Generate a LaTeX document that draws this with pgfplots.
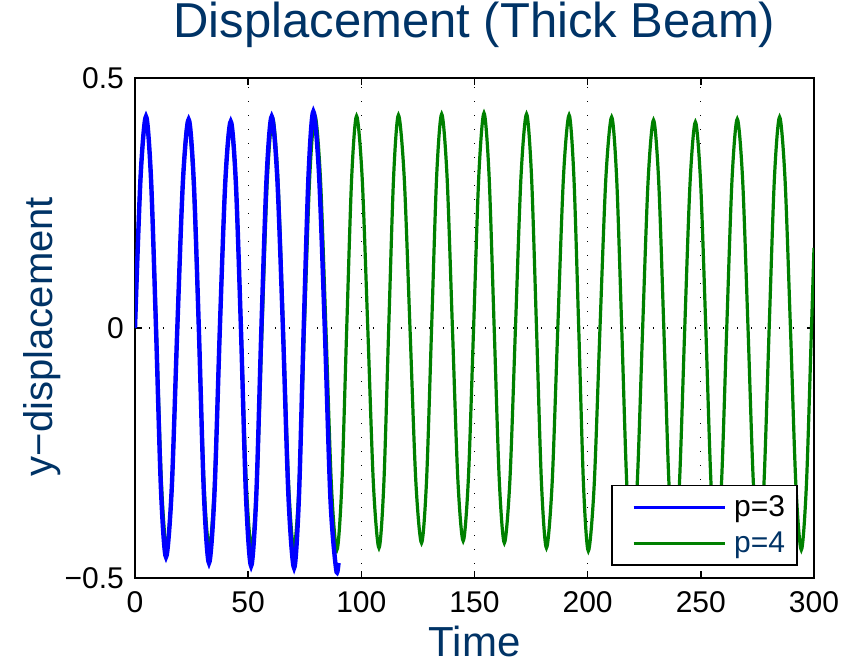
\documentclass[border=0pt]{standalone}
\usepackage{pgfplots}
\pgfplotsset{compat=1.18}
\usepackage{fontspec}
\setmainfont{Liberation Sans}
\definecolor{navyt}{RGB}{0,51,102}
\definecolor{mblue}{RGB}{0,0,255}
\definecolor{mgreen}{RGB}{0,128,0}
\begin{document}
\begin{tikzpicture}
\useasboundingbox (-67.5pt,-44.5pt) rectangle (353.5pt,289pt);
\begin{axis}[
  at={(0,0)}, anchor=south west,
  scale only axis, width=339.5pt, height=250pt,
  xmin=0, xmax=300, ymin=-0.5, ymax=0.5,
  xtick={0,50,100,150,200,250,300},
  ytick={-0.5,0,0.5},
  yticklabels={−0.5,0,0.5},
  /pgf/number format/assume math mode=true,
  tick label style={font=\fontsize{15}{17}\selectfont, black},
  xticklabel style={yshift=-3pt},
  yticklabel style={xshift=-2pt},
  tick align=inside, major tick length=3.5pt,
  tick style={black, line width=0.7pt},
  axis line style={line width=0.9pt, black},
  grid=major,
  major grid style={black, line width=0.6pt, dash pattern=on 0.6pt off 6.4pt},
  title={Displacement (Thick Beam)},
  title style={at={([yshift=14pt]axis description cs:0.5,1)}, anchor=base, font=\fontsize{24.5}{28}\selectfont, text=navyt},
  xlabel={Time},
  xlabel style={at={([yshift=-39.5pt]axis description cs:0.5,0)}, anchor=base, font=\fontsize{21}{23}\selectfont, text=navyt},
  ylabel={y−displacement},
  ylabel style={at={([xshift=-41pt]axis description cs:0,0.483)}, anchor=base, font=\fontsize{20}{23}\selectfont, text=navyt},
  legend style={at={(axis description cs:0.9764,0.024)}, anchor=south east, draw=black, line width=0.9pt, fill=white, font=\fontsize{15}{17}\selectfont, inner xsep=4pt, inner ysep=3pt, row sep=2pt},
  legend cell align=left,
  legend image code/.code={\path (-6pt,0pt); \path (47.5pt,0pt); \draw[#1] (0pt,0pt) -- (45.5pt,0pt);},
]
\addplot[mgreen, line width=1.6pt, smooth, tension=0.5, forget plot] coordinates {
(0,0) (2.4,0.297) (4.8,0.42) (7.1,0.297) (9.4,0)
(11.7,-0.311) (14.0,-0.44) (16.375,-0.311) (18.75,0)
(21.125,0.293) (23.5,0.415) (25.825,0.293) (28.15,0)
(30.475,-0.311) (32.8,-0.44) (35.15,-0.311) (37.5,0)
(39.85,0.290) (42.2,0.41) (44.525,0.290) (46.85,0)
(49.175,-0.311) (51.5,-0.44) (53.825,-0.311) (56.15,0)
(58.475,0.297) (60.8,0.42) (63.15,0.297) (65.5,0)
(67.85,-0.311) (70.2,-0.44) (72.525,-0.311) (74.85,0)
(77.175,0.300) (79.5,0.425) (81.925,0.300) (84.35,0)
(86.775,-0.314) (89.2,-0.444) (91.375,-0.314) (93.55,0)
(95.725,0.300) (97.9,0.424) (100.375,0.300) (102.85,0)
(105.325,-0.311) (107.8,-0.44) (109.95,-0.311) (112.1,0)
(114.25,0.301) (116.4,0.426) (118.95,0.301) (121.5,0)
(124.05,-0.304) (126.6,-0.43) (128.825,-0.304) (131.05,0)
(133.275,0.303) (135.5,0.428) (137.875,0.303) (140.25,0)
(142.625,-0.301) (145.0,-0.426) (147.3,-0.301) (149.6,0)
(151.9,0.304) (154.2,0.43) (156.45,0.304) (158.7,0)
(160.95,-0.304) (163.2,-0.43) (165.65,-0.304) (168.1,0)
(170.55,0.303) (173.0,0.428) (175.2,0.303) (177.4,0)
(179.6,-0.311) (181.8,-0.44) (184.3,-0.311) (186.8,0)
(189.3,0.301) (191.8,0.426) (193.925,0.301) (196.05,0)
(198.175,-0.315) (200.3,-0.446) (202.875,-0.315) (205.45,0)
(208.025,0.298) (210.6,0.422) (212.825,0.298) (215.05,0)
(217.275,-0.311) (219.5,-0.44) (221.9,-0.311) (224.3,0)
(226.7,0.294) (229.1,0.416) (231.375,0.294) (233.65,0)
(235.925,-0.311) (238.2,-0.44) (240.55,-0.311) (242.9,0)
(245.25,0.291) (247.6,0.412) (249.9,0.291) (252.2,0)
(254.5,-0.311) (256.8,-0.44) (259.125,-0.311) (261.45,0)
(263.775,0.296) (266.1,0.418) (268.475,0.296) (270.85,0)
(273.225,-0.311) (275.6,-0.44) (277.9,-0.311) (280.2,0)
(282.5,0.298) (284.8,0.422) (287.2,0.298) (289.6,0)
(292.0,-0.314) (294.4,-0.444) (296.65,-0.314) (298.9,0)
(300,0.16)
};
\addplot[mblue, line width=2.2pt, smooth, tension=0.5, forget plot] coordinates {
(0,0) (2.43,0.299) (4.86,0.423) (7.07,0.299) (9.28,0)
(11.49,-0.324) (13.7,-0.458) (16.2,-0.324) (18.7,0)
(21.2,0.295) (23.7,0.417) (25.95,0.295) (28.2,0)
(30.45,-0.332) (32.7,-0.47) (35.1,-0.332) (37.5,0)
(39.9,0.292) (42.3,0.413) (44.55,0.292) (46.8,0)
(49.05,-0.337) (51.3,-0.476) (53.575,-0.337) (55.85,0)
(58.125,0.299) (60.4,0.423) (62.875,0.299) (65.35,0)
(67.825,-0.339) (70.3,-0.48) (72.425,-0.339) (74.55,0)
(76.675,0.306) (78.8,0.433) (81.325,0.306) (83.85,0)
(86.375,-0.344) (88.9,-0.484) (89.9,-0.47)
};
\addlegendimage{mblue, line width=1.6pt}
\addlegendentry{p=3}
\addlegendimage{mgreen, line width=1.6pt}
\addlegendentry{\textcolor{navyt}{p=4}}
\end{axis}
\end{tikzpicture}
\end{document}
